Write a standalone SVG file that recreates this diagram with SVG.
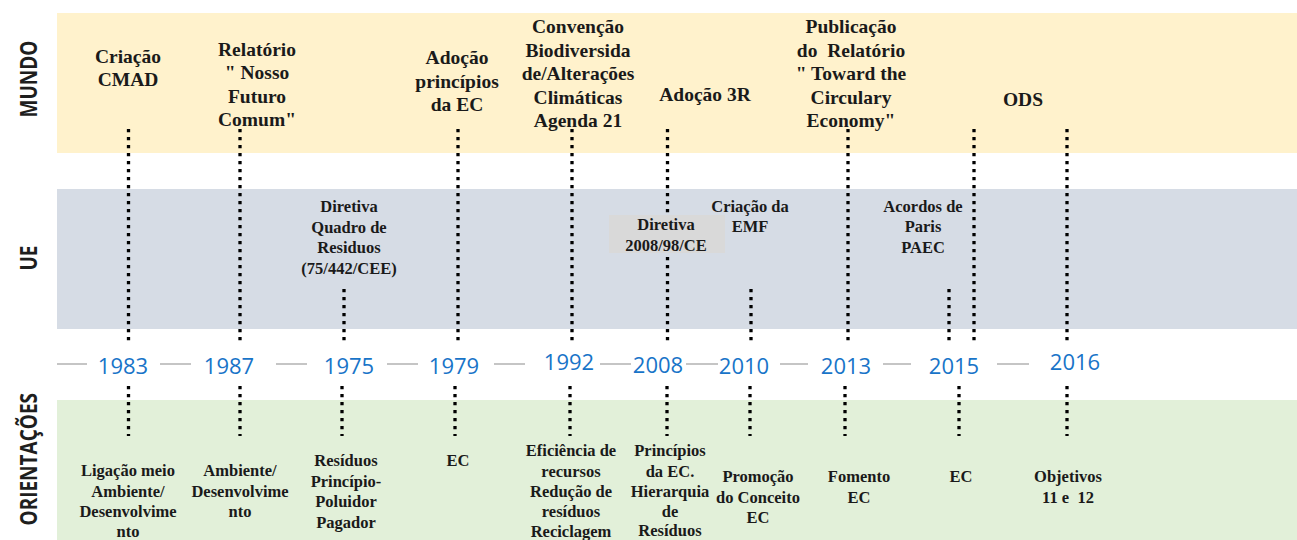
<svg xmlns="http://www.w3.org/2000/svg" width="1297" height="540" viewBox="0 0 1297 540">
<style>
.ev{font-family:'Liberation Serif','Times New Roman',serif;font-weight:bold;fill:#1a1a1a;text-anchor:middle}
.top{font-size:19.5px}
.mid{font-size:16.5px}
.bot{font-size:16.5px}
.yr{font-family:'Open Sans','Liberation Sans',sans-serif;font-size:22px;fill:#1874C8;text-anchor:middle}
.row{font-family:'Open Sans','Liberation Sans',sans-serif;font-weight:bold;font-size:19px;fill:#1e1e1e}
.dot{stroke:#000;stroke-width:3.3;stroke-dasharray:3.3 4.7;fill:none}
.dash{stroke:#A6A6A6;stroke-width:1.3}
</style>
<rect x="0" y="0" width="1297" height="540" fill="#ffffff"/>
<!-- bands -->
<rect x="57" y="13" width="1240" height="140" fill="#FFF2CC"/>
<rect x="57" y="189" width="1240" height="140" fill="#D6DCE5"/>
<rect x="57" y="400" width="1240" height="140" fill="#E2F0D9"/>
<!-- row labels -->
<g id="row-mundo"><text class="row" text-anchor="middle" transform="translate(37,79) rotate(-90) scale(1,1.25)">MUNDO</text></g>
<g id="row-ue"><text class="row" text-anchor="middle" transform="translate(37,258) rotate(-90) scale(1,1.25)">UE</text></g>
<g id="row-orient"><text class="row" text-anchor="end" transform="translate(37,393) rotate(-90) scale(1,1.25)">ORIENTAÇÕES</text></g>
<!-- connectors -->
<g id="connectors">
<line class="dot" x1="128.5" y1="129" x2="128.5" y2="345"/>
<line class="dot" x1="240" y1="129" x2="240" y2="345"/>
<line class="dot" x1="344" y1="289" x2="344" y2="345"/>
<line class="dot" x1="458" y1="129" x2="458" y2="345"/>
<line class="dot" x1="572" y1="129" x2="572" y2="345"/>
<line class="dot" x1="667.5" y1="129" x2="667.5" y2="345"/>
<line class="dot" x1="751" y1="289" x2="751" y2="345"/>
<line class="dot" x1="848" y1="129" x2="848" y2="345"/>
<line class="dot" x1="949" y1="289" x2="949" y2="345"/>
<line class="dot" x1="974" y1="129" x2="974" y2="345"/>
<line class="dot" x1="1067" y1="129" x2="1067" y2="345"/>
<line class="dot" x1="128.5" y1="386" x2="128.5" y2="436"/>
<line class="dot" x1="240" y1="386" x2="240" y2="436"/>
<line class="dot" x1="342" y1="386" x2="342" y2="436"/>
<line class="dot" x1="455" y1="386" x2="455" y2="436"/>
<line class="dot" x1="570" y1="386" x2="570" y2="436"/>
<line class="dot" x1="667" y1="386" x2="667" y2="436"/>
<line class="dot" x1="750" y1="386" x2="750" y2="436"/>
<line class="dot" x1="845" y1="386" x2="845" y2="436"/>
<line class="dot" x1="959" y1="386" x2="959" y2="436"/>
<line class="dot" x1="1067" y1="386" x2="1067" y2="436"/>
<!-- timeline dashes -->
<line class="dash" x1="57" y1="364" x2="87" y2="364"/>
<line class="dash" x1="160" y1="364" x2="191" y2="364"/>
<line class="dash" x1="276" y1="364" x2="307" y2="364"/>
<line class="dash" x1="387" y1="364" x2="418" y2="364"/>
<line class="dash" x1="494" y1="364" x2="525" y2="364"/>
<line class="dash" x1="600" y1="364" x2="631" y2="364"/>
<line class="dash" x1="686" y1="364" x2="718" y2="364"/>
<line class="dash" x1="780" y1="364" x2="808" y2="364"/>
<line class="dash" x1="883" y1="364" x2="911" y2="364"/>
<line class="dash" x1="997" y1="364" x2="1029" y2="364"/>
</g>
<!-- years -->
<g id="years">
<text class="yr" x="123" y="374">1983</text>
<text class="yr" x="229" y="374">1987</text>
<text class="yr" x="349" y="374">1975</text>
<text class="yr" x="454" y="374">1979</text>
<text class="yr" x="569" y="370">1992</text>
<text class="yr" x="658" y="373">2008</text>
<text class="yr" x="744" y="374">2010</text>
<text class="yr" x="846" y="374">2013</text>
<text class="yr" x="954" y="374">2015</text>
<text class="yr" x="1075" y="370">2016</text>
</g>
<!-- MUNDO nodes -->
<g id="m-1983"><text class="ev top" x="128" y="63">Criação</text><text class="ev top" x="128" y="86">CMAD</text></g>
<g id="m-1987"><text class="ev top" x="257" y="56">Relatório</text><text class="ev top" x="257" y="79">" Nosso</text><text class="ev top" x="257" y="103">Futuro</text><text class="ev top" x="257" y="126">Comum"</text></g>
<g id="m-1979"><text class="ev top" x="457" y="64">Adoção</text><text class="ev top" x="457" y="88">princípios</text><text class="ev top" x="457" y="111">da EC</text></g>
<g id="m-1992"><text class="ev top" x="578" y="33">Convenção</text><text class="ev top" x="578" y="56.5">Biodiversida</text><text class="ev top" x="578" y="80">de/Alterações</text><text class="ev top" x="578" y="103.5">Climáticas</text><text class="ev top" x="578" y="127">Agenda 21</text></g>
<g id="m-2008"><text class="ev top" x="705" y="101">Adoção 3R</text></g>
<g id="m-2013"><text class="ev top" x="851" y="33">Publicação</text><text class="ev top" x="851" y="56.5">do&#160; Relatório</text><text class="ev top" x="851" y="80">" Toward the</text><text class="ev top" x="851" y="103.5">Circulary</text><text class="ev top" x="851" y="127">Economy"</text></g>
<g id="m-2016"><text class="ev top" x="1023" y="106">ODS</text></g>
<!-- UE nodes -->
<g id="u-1975"><text class="ev mid" x="349" y="212">Diretiva</text><text class="ev mid" x="349" y="232.5">Quadro de</text><text class="ev mid" x="349" y="253">Residuos</text><text class="ev mid" x="349" y="273.5">(75/442/CEE)</text></g>
<g id="u-2008"><rect x="609" y="215" width="116" height="38" fill="#D9D9D9"/><text class="ev mid" x="666" y="230">Diretiva</text><text class="ev mid" x="666" y="251">2008/98/CE</text></g>
<g id="u-2010"><text class="ev mid" x="750" y="211.5">Criação da</text><text class="ev mid" x="750" y="231.5">EMF</text></g>
<g id="u-2015"><text class="ev mid" x="923" y="211.5">Acordos de</text><text class="ev mid" x="923" y="232">Paris</text><text class="ev mid" x="923" y="252.5">PAEC</text></g>
<!-- ORIENTAÇÕES nodes -->
<g id="o-1983"><text class="ev bot" x="128" y="476">Ligação meio</text><text class="ev bot" x="128" y="496.5">Ambiente/</text><text class="ev bot" x="128" y="517">Desenvolvime</text><text class="ev bot" x="128" y="537">nto</text></g>
<g id="o-1987"><text class="ev bot" x="240" y="476">Ambiente/</text><text class="ev bot" x="240" y="496.5">Desenvolvime</text><text class="ev bot" x="240" y="517">nto</text></g>
<g id="o-1975"><text class="ev bot" x="346" y="466">Resíduos</text><text class="ev bot" x="346" y="486.5">Princípio-</text><text class="ev bot" x="346" y="507">Poluidor</text><text class="ev bot" x="346" y="527.5">Pagador</text></g>
<g id="o-1979"><text class="ev bot" x="458" y="466">EC</text></g>
<g id="o-1992"><text class="ev bot" x="571" y="456">Eficiência de</text><text class="ev bot" x="571" y="476.5">recursos</text><text class="ev bot" x="571" y="497">Redução de</text><text class="ev bot" x="571" y="517">resíduos</text><text class="ev bot" x="571" y="537">Reciclagem</text></g>
<g id="o-2008"><text class="ev bot" x="670" y="456">Princípios</text><text class="ev bot" x="670" y="476.5">da EC.</text><text class="ev bot" x="670" y="497">Hierarquia</text><text class="ev bot" x="670" y="517">de</text><text class="ev bot" x="670" y="536">Resíduos</text></g>
<g id="o-2010"><text class="ev bot" x="758" y="482">Promoção</text><text class="ev bot" x="758" y="502.5">do Conceito</text><text class="ev bot" x="758" y="523">EC</text></g>
<g id="o-2013"><text class="ev bot" x="859" y="482">Fomento</text><text class="ev bot" x="859" y="502.5">EC</text></g>
<g id="o-2015"><text class="ev bot" x="961" y="482">EC</text></g>
<g id="o-2016"><text class="ev bot" x="1068" y="482">Objetivos</text><text class="ev bot" x="1068" y="502.5">11 e&#160; 12</text></g>
</svg>
